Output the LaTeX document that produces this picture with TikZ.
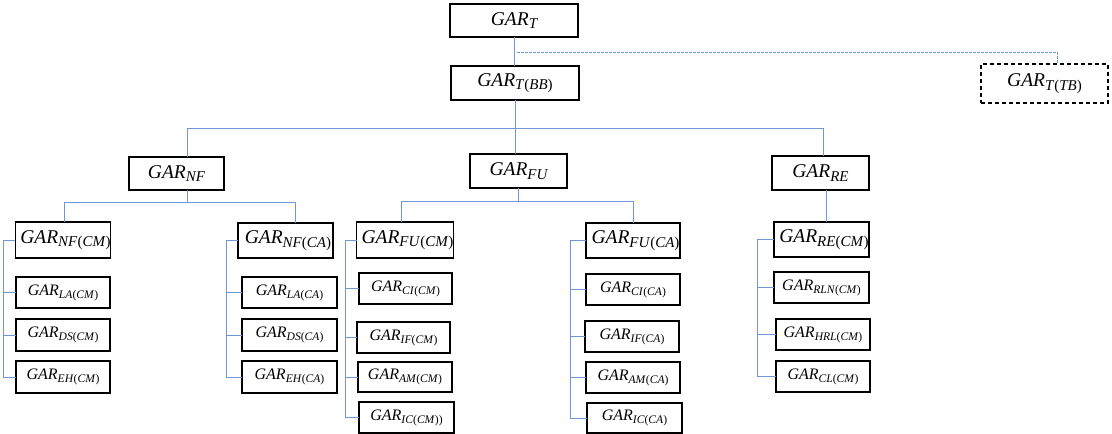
\documentclass[tikz,border=0pt]{standalone}
\usepackage{fontspec}
\setmainfont{Liberation Serif}
\usepackage{tikz}
\definecolor{conncol}{HTML}{7196DA}
\newcommand{\opar}{\textup{(}}
\newcommand{\cpar}{\textup{)}}
% \garb{sub} big label, \garl{sub} leaf label
\newcommand{\garb}[1]{{\fontsize{19.5}{20}\selectfont\itshape GAR}\raisebox{-3.5pt}{\fontsize{15}{16}\selectfont\itshape #1}}
\newcommand{\garl}[1]{{\fontsize{16}{17}\selectfont\itshape GAR}\raisebox{-3pt}{\fontsize{11.6}{12}\selectfont\itshape #1}}
\newcommand{\garm}[1]{\hspace*{5pt}\garb{#1}}
\tikzset{
  box/.style={draw=black, line width=1.1pt, inner sep=0pt, outer sep=0pt},
  dbox/.style={box, dashed, dash pattern=on 4pt off 3pt},
  conn/.style={draw=conncol, line width=1pt},
  dconn/.style={draw=conncol, line width=0.8pt, dash pattern=on 2.5pt off 1.5pt},
}
% \bx{style}{name}{x1}{y1}{x2}{y2}{text}
\newcommand{\bx}[7]{\node[#1, minimum width=#5pt-#3pt, minimum height=#6pt-#4pt] (#2) at ({(#3+#5)/2},{(#4+#6)/2}) {#7};}
\begin{document}
\begin{tikzpicture}[x=1pt,y=-1pt]
\useasboundingbox (0,0) rectangle (1112,434);
% top
\bx{box}{T}{450}{4}{578}{37}{\garb{T}}
\bx{box}{BB}{451}{66}{579}{100}{\garb{T\opar BB\cpar}}
\bx{dbox}{TB}{981}{64}{1108}{103}{\garb{T\opar TB\cpar}}
% level 2
\bx{box}{NF}{129}{157}{224}{190}{\garb{NF}}
\bx{box}{FU}{470}{154}{567}{188}{\garb{FU}}
\bx{box}{RE}{772}{156}{869}{190}{\garb{RE}}
% level 3
\bx{box}{NFCM}{16}{222}{110}{258}{\garm{NF\opar CM\cpar}}
\bx{box}{NFCA}{238}{223}{333}{258}{\garm{NF\opar CA\cpar}}
\bx{box}{FUCM}{358}{222}{452}{258}{\garm{FU\opar CM\cpar}}
\bx{box}{FUCA}{586}{223}{680}{258}{\garm{FU\opar CA\cpar}}
\bx{box}{RECM}{774}{222}{869}{257}{\garm{RE\opar CM\cpar}}
% leaves NF(CM)
\bx{box}{LACM}{16}{277}{110}{308}{\garl{LA\opar CM\cpar}}
\bx{box}{DSCM}{16}{319}{110}{351}{\garl{DS\opar CM\cpar}}
\bx{box}{EHCM}{16}{361}{110}{393}{\garl{EH\opar CM\cpar}}
% leaves NF(CA)
\bx{box}{LACA}{242}{277}{337}{308}{\garl{LA\opar CA\cpar}}
\bx{box}{DSCA}{242}{319}{337}{351}{\garl{DS\opar CA\cpar}}
\bx{box}{EHCA}{242}{361}{337}{393}{\garl{EH\opar CA\cpar}}
% leaves FU(CM)
\bx{box}{CICM}{359}{273}{452}{304}{\garl{CI\opar CM\cpar}}
\bx{box}{IFCM}{357}{322}{450}{353}{\garl{IF\opar CM\cpar}}
\bx{box}{AMCM}{358}{362}{452}{392}{\garl{AM\opar CM\cpar}}
\bx{box}{ICCM}{359}{402}{454}{433}{\garl{IC\opar CM\cpar\cpar}}
% leaves FU(CA)
\bx{box}{CICA}{586}{274}{680}{305}{\garl{CI\opar CA\cpar}}
\bx{box}{IFCA}{585}{321}{679}{352}{\garl{IF\opar CA\cpar}}
\bx{box}{AMCA}{586}{362}{680}{393}{\garl{AM\opar CA\cpar}}
\bx{box}{ICCA}{587}{403}{682}{433}{\garl{IC\opar CA\cpar}}
% leaves RE(CM)
\bx{box}{RLNCM}{774}{272}{869}{303}{\garl{RLN\opar CM\cpar}}
\bx{box}{HRLCM}{776}{319}{870}{350}{\garl{HRL\opar CM\cpar}}
\bx{box}{CLCM}{776}{361}{870}{392}{\garl{CL\opar CM\cpar}}

% joint coordinates
\coordinate (j0) at (517,52);
\coordinate (j1) at (1057,52);
\coordinate (h1) at (0,128);
\coordinate (xnf) at (187,0);
\coordinate (xre) at (823,0);
\coordinate (h2) at (0,202);
\coordinate (xa) at (64,0);
\coordinate (xb) at (295,0);
\coordinate (h3) at (0,201);
\coordinate (xc) at (401,0);
\coordinate (xd) at (633,0);
\coordinate (s1) at (3,0);
\coordinate (s2) at (226,0);
\coordinate (s3) at (345,0);
\coordinate (s4) at (570,0);
\coordinate (s5) at (757,0);

% top connectors
\draw[conn] (T.south) -- (T.south |- BB.north);
\draw[dconn] (j0) -- (j1) -- (j1 |- TB.north);
\draw[conn] (BB.south) -- (BB.south |- FU.north);
\draw[conn] (xnf |- NF.north) -- (xnf |- h1) -- (xre |- h1) -- (xre |- RE.north);
% NF
\draw[conn] (xnf |- NF.south) -- (xnf |- h2);
\draw[conn] (xa |- NFCM.north) -- (xa |- h2) -- (xb |- h2) -- (xb |- NFCA.north);
% FU
\draw[conn] (FU.south) -- (FU.south |- h3);
\draw[conn] (xc |- FUCM.north) -- (xc |- h3) -- (xd |- h3) -- (xd |- FUCA.north);
% RE
\draw[conn] (826,190) coordinate (re1) -- (re1 |- RECM.north);
% side spines
\draw[conn] (NFCM.west) -- (NFCM.west -| s1) -- (EHCM.west -| s1) -- (EHCM.west);
\draw[conn] (LACM.west -| s1) -- (LACM.west);
\draw[conn] (DSCM.west -| s1) -- (DSCM.west);
\draw[conn] (NFCA.west) -- (NFCA.west -| s2) -- (EHCA.west -| s2) -- (EHCA.west);
\draw[conn] (LACA.west -| s2) -- (LACA.west);
\draw[conn] (DSCA.west -| s2) -- (DSCA.west);
\draw[conn] (FUCM.west) -- (FUCM.west -| s3) -- (ICCM.west -| s3) -- (ICCM.west);
\draw[conn] (CICM.west -| s3) -- (CICM.west);
\draw[conn] (IFCM.west -| s3) -- (IFCM.west);
\draw[conn] (AMCM.west -| s3) -- (AMCM.west);
\draw[conn] (FUCA.west) -- (FUCA.west -| s4) -- (ICCA.west -| s4) -- (ICCA.west);
\draw[conn] (CICA.west -| s4) -- (CICA.west);
\draw[conn] (IFCA.west -| s4) -- (IFCA.west);
\draw[conn] (AMCA.west -| s4) -- (AMCA.west);
\draw[conn] (RECM.west) -- (RECM.west -| s5) -- (CLCM.west -| s5) -- (CLCM.west);
\draw[conn] (RLNCM.west -| s5) -- (RLNCM.west);
\draw[conn] (HRLCM.west -| s5) -- (HRLCM.west);
\end{tikzpicture}
\end{document}
